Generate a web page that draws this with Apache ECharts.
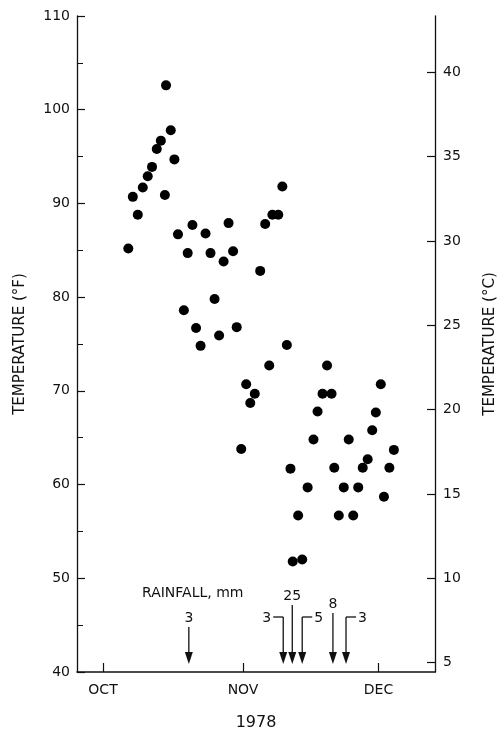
<!DOCTYPE html>
<html>
<head>
<meta charset="utf-8">
<script src="https://cdn.jsdelivr.net/npm/echarts@6/dist/echarts.min.js"></script>
<style>
  html, body { margin: 0; padding: 0; background: #fff; }
  #chart { width: 501px; height: 732px; }
</style>
</head>
<body>
<div id="chart"></div>
<script>
    // days counted from Oct 1 (day 0), temperature in deg F
    let tempDays = [
        5.6, 6.6, 7.7, 8.8, 9.9, 10.85, 11.9, 12.8, 13.7, 13.95,
        15.0, 15.8, 16.6, 17.9, 18.75, 19.8, 20.6, 21.6, 22.7, 23.8,
        24.7, 25.7, 26.7, 27.8, 28.8, 29.6, 30.6, 31.7, 32.6, 33.6,
        34.8, 35.9, 36.8, 37.5, 38.8, 39.7, 40.7, 41.5, 42.0, 43.2,
        44.1, 45.3, 46.6, 47.5, 48.6, 49.6, 50.6, 51.2, 52.2, 53.3,
        54.4, 55.4, 56.5, 57.5, 58.6, 59.6, 60.4, 61.5, 62.2, 63.4,
        64.4
    ]
    let tempF = [
        85.2, 90.7, 88.8, 91.7, 92.9, 93.9, 95.8, 96.7, 90.9, 102.6,
        97.8, 94.7, 86.7, 78.6, 84.7, 87.7, 76.7, 74.8, 86.8, 84.7,
        79.8, 75.9, 83.8, 87.9, 84.9, 76.8, 63.8, 70.7, 68.7, 69.7,
        82.8, 87.8, 72.7, 88.8, 88.8, 91.8, 74.9, 61.7, 51.8, 56.7,
        52.0, 59.7, 64.8, 67.8, 69.7, 72.7, 69.7, 61.8, 56.7, 59.7,
        64.8, 56.7, 59.7, 61.8, 62.7, 65.8, 67.7, 70.7, 58.7, 61.8,
        63.7
    ]

    let rainDays = [19.0, 39.9, 41.9, 44.1, 50.9, 53.8]
    let rainMm = [3, 3, 25, 5, 8, 3]

    let monthDays = [0, 31, 61]
    let monthLabels = ['OCT', 'NOV', 'DEC']
    let celsiusTicks = [5, 10, 15, 20, 25, 30, 35, 40]

    // how each rainfall arrow is drawn: label side and shaft length (px)
    let arrowLayout = [
        {side: 'top', len: 37},
        {side: 'left', len: 47},
        {side: 'top', len: 59},
        {side: 'right', len: 47},
        {side: 'top', len: 51},
        {side: 'right', len: 47}
    ]

    let fontFamily = '"DejaVu Sans", sans-serif'
    let ink = '#111'

    let scatterData = tempDays.map((d, i) => [d, tempF[i]])
    let rainData = rainDays.map((d, i) => [d, rainMm[i]])

    let fToC = f => (f - 32) * 5 / 9

    function renderArrow(params, api) {
        let lay = arrowLayout[params.dataIndex]
        let base = api.coord([api.value(0), 40])
        let x = base[0]
        let tipY = base[1] - 8
        let topY = tipY - lay.len
        let headH = 12
        let children = [
            {type: 'line', shape: {x1: x, y1: topY, x2: x, y2: tipY - headH + 2},
                style: {stroke: ink, lineWidth: 1.3}},
            {type: 'polygon', shape: {points: [[x - 4, tipY - headH], [x + 4, tipY - headH], [x, tipY]]},
                style: {fill: ink}}
        ]
        let txt = String(api.value(1))
        if (lay.side === 'top') {
            children.push({type: 'text', style: {text: txt, x: x, y: topY - 2, align: 'center',
                verticalAlign: 'bottom', font: '14px ' + fontFamily, fill: ink}})
        } else {
            let dir = lay.side === 'left' ? -1 : 1
            children.push({type: 'line', shape: {x1: x, y1: topY, x2: x + dir * 10, y2: topY},
                style: {stroke: ink, lineWidth: 1.3}})
            children.push({type: 'text', style: {text: txt, x: x + dir * 12, y: topY + 1,
                align: dir < 0 ? 'right' : 'left', verticalAlign: 'middle',
                font: '14px ' + fontFamily, fill: ink}})
        }
        return {type: 'group', children: children}
    }

    let option = {
        animation: false,
        backgroundColor: '#fff',
        textStyle: {fontFamily: fontFamily, color: ink},
        grid: {left: 77, right: 66, top: 16, bottom: 60, outerBoundsMode: 'none', containLabel: false},
        graphic: [{
            type: 'text', left: 142, top: 586,
            style: {text: 'RAINFALL, mm', font: '14px ' + fontFamily, fill: ink}
        }],
        xAxis: {
            type: 'value',
            min: -5.76,
            max: 73.5,
            name: '1978',
            nameLocation: 'middle',
            nameGap: 43,
            nameTextStyle: {fontSize: 16, color: ink},
            splitLine: {show: false},
            axisLine: {show: true, onZero: false, lineStyle: {color: ink, width: 1.5}},
            axisTick: {show: true, inside: true, length: 9, customValues: monthDays,
                lineStyle: {color: ink, width: 1.2}},
            axisLabel: {
                customValues: monthDays, margin: 11, fontSize: 14, color: ink,
                formatter: v => monthLabels[monthDays.indexOf(v)] || ''
            }
        },
        yAxis: [{
            type: 'value',
            position: 'left',
            min: 40,
            max: 110,
            interval: 10,
            name: 'TEMPERATURE (°F)',
            nameLocation: 'middle',
            nameRotate: 90,
            nameGap: 49,
            nameTextStyle: {fontSize: 15, color: ink},
            splitLine: {show: false},
            axisLine: {show: true, onZero: false, lineStyle: {color: ink, width: 1.3}},
            axisTick: {show: true, inside: true, length: 8, lineStyle: {color: ink, width: 1.2}},
            minorTick: {show: true, splitNumber: 2, length: 6, lineStyle: {color: ink, width: 1}},
            axisLabel: {margin: 7, fontSize: 14, color: ink}
        }, {
            type: 'value',
            position: 'right',
            min: fToC(40),
            max: fToC(110),
            name: 'TEMPERATURE (°C)',
            nameLocation: 'middle',
            nameRotate: 90,
            nameGap: 48,
            nameTextStyle: {fontSize: 15, color: ink},
            splitLine: {show: false},
            axisLine: {show: true, onZero: false, lineStyle: {color: ink, width: 1.3}},
            axisTick: {show: true, inside: true, length: 8, customValues: celsiusTicks,
                lineStyle: {color: ink, width: 1.2}},
            axisLabel: {customValues: celsiusTicks, margin: 8, fontSize: 14, color: ink}
        }],
        series: [{
            name: 'temperature',
            type: 'scatter',
            yAxisIndex: 0,
            symbol: 'circle',
            symbolSize: 10,
            itemStyle: {color: '#000', opacity: 1},
            data: scatterData
        }, {
            name: 'rainfall',
            type: 'custom',
            yAxisIndex: 0,
            renderItem: renderArrow,
            clip: false,
            data: rainData
        }]
    }

    let myChart = echarts.init(document.getElementById('chart'))
    myChart.setOption(option)
</script>
</body>
</html>
